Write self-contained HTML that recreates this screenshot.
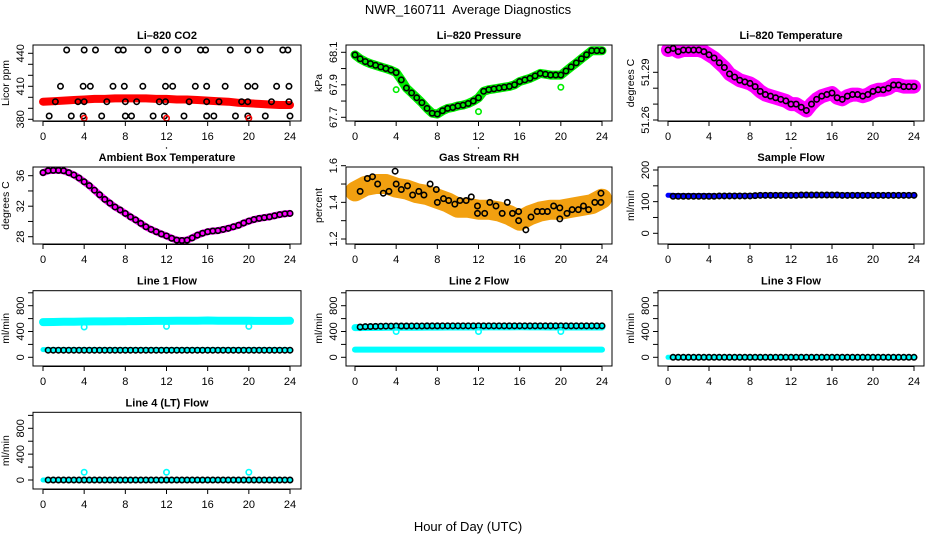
<!DOCTYPE html>
<html><head><meta charset="utf-8"><style>
html,body{margin:0;padding:0;background:#fff;}
svg{display:block;font-family:"Liberation Sans",sans-serif;}
</style></head><body>
<svg id="c" width="936" height="540" viewBox="0 0 936 540" xmlns="http://www.w3.org/2000/svg">
<text x="468" y="14" text-anchor="middle" font-size="13">NWR_160711&#160; Average Diagnostics</text>
<text x="468" y="531" text-anchor="middle" font-size="13">Hour of Day (UTC)</text>
</svg>
<script>
const HALF=[0,0.5,1,1.5,2,2.5,3,3.5,4,4.5,5,5.5,6,6.5,7,7.5,8,8.5,9,9.5,10,10.5,11,11.5,12,12.5,13,13.5,14,14.5,15,15.5,16,16.5,17,17.5,18,18.5,19,19.5,20,20.5,21,21.5,22,22.5,23,23.5,24];
const HOURLY=[0,1,2,3,4,5,6,7,8,9,10,11,12,13,14,15,16,17,18,19,20,21,22,23,24];
const XTICKS=[0,4,8,12,16,20,24];
const OUT_HOURS=[4,12,20];

const co2Band=[396,396.5,397,397.5,398,398.5,398.5,399,399,399,399,398.5,398.5,398,398,397.5,397,396.5,396,395,394.5,394,393.5,393,393];
const co2Hours=[0.6,1.2,1.7,2.3,2.75,3.4,3.9,3.9,4.0,4.0,4.6,5.1,5.7,6.2,6.8,7.3,7.8,7.9,8.0,8.0,8.6,9.1,9.7,10.2,10.7,11.3,11.8,11.9,11.9,11.9,12.6,13.1,13.7,14.2,14.8,15.3,15.8,15.9,15.9,15.9,16.6,17.1,17.7,18.2,18.7,19.3,19.9,19.9,19.9,19.9,20.6,21.1,21.6,22.2,22.7,23.3,23.8,23.9,23.9,24.0];
const co2Vals=[383,396,410,443,383,396,410,383,443,396,410,443,383,396,410,443,443,410,396,383,383,396,410,443,383,396,383,396,410,443,410,443,383,396,410,443,443,410,396,383,383,396,410,443,383,396,396,383,410,443,410,443,383,396,410,443,443,410,396,383];
const co2Out=[381,381,381];

const pressVals=[68.084,68.06,68.043,68.03,68.02,68.01,68.0,67.99,67.975,67.93,67.88,67.85,67.82,67.79,67.755,67.725,67.72,67.74,67.755,67.76,67.77,67.775,67.785,67.80,67.82,67.86,67.87,67.875,67.88,67.885,67.89,67.9,67.92,67.93,67.94,67.955,67.97,67.965,67.96,67.96,67.96,67.985,68.01,68.035,68.06,68.085,68.11,68.11,68.11];
const pressOut=[67.87,67.735,67.885];

const liTempVals=[51.304,51.305,51.303,51.304,51.304,51.304,51.304,51.303,51.301,51.299,51.296,51.293,51.289,51.287,51.285,51.284,51.283,51.281,51.278,51.276,51.275,51.274,51.273,51.272,51.27,51.27,51.268,51.266,51.27,51.273,51.275,51.276,51.277,51.274,51.273,51.275,51.276,51.276,51.275,51.276,51.278,51.279,51.279,51.28,51.282,51.282,51.281,51.281,51.281];

const ambVals=[36.4,36.65,36.7,36.7,36.65,36.4,36.1,35.7,35.2,34.7,34.1,33.5,32.9,32.4,31.9,31.5,31.05,30.6,30.2,29.75,29.3,28.95,28.65,28.35,28.1,27.8,27.55,27.5,27.55,27.85,28.2,28.45,28.65,28.75,28.8,28.95,29.1,29.3,29.5,29.8,30.05,30.25,30.4,30.5,30.6,30.75,30.9,31.0,31.05];

const rhBand=[1.46,1.49,1.5,1.5,1.48,1.47,1.45,1.44,1.42,1.40,1.37,1.37,1.36,1.36,1.35,1.33,1.30,1.33,1.35,1.36,1.36,1.37,1.38,1.39,1.42];
const rhHours=[0.5,1.2,1.7,2.2,2.75,3.3,3.9,4,4.5,5.1,5.6,6.2,6.7,7.3,7.9,8,8.6,9.1,9.7,10.2,10.8,11.3,11.9,11.9,12.6,13.1,13.7,14.3,14.8,15.3,15.9,15.9,16.6,17.1,17.7,18.2,18.7,19.3,19.9,19.9,20.6,21.1,21.7,22.2,22.7,23.3,23.9,23.9];
const rhVals=[1.46,1.53,1.54,1.50,1.45,1.46,1.57,1.50,1.47,1.49,1.44,1.46,1.44,1.50,1.47,1.40,1.42,1.41,1.39,1.41,1.41,1.43,1.38,1.34,1.34,1.40,1.38,1.34,1.40,1.34,1.35,1.30,1.25,1.32,1.35,1.35,1.35,1.38,1.37,1.31,1.34,1.36,1.36,1.38,1.36,1.40,1.45,1.40];

const sampleBand=[120,119,119,119,119,118,119,119,119,120,121,121,121,121,121,121,122,121,121,121,120,120,120,120,120];
const sampleCirc=[117,117,117,117,117,117,117,117,117,118,118,118,118,118,118,118,119,120,120,120,120,120,120,120,120,121,121,121,121,121,121,121,121,120,120,120,120,120,120,120,120,120,120,120,120,120,120,120];

const l1BandHi=[545,548,550,552,555,556,557,558,560,562,563,564,565,566,568,568,570,568,567,566,566,565,565,565,566];
const l1BandLo=[120,120,120,120,120,120,120,120,120,120,120,120,120,120,120,120,120,120,120,120,120,120,120,120,120];
const l1Circ=[110,110,110,110,110,110,110,110,110,110,110,110,110,110,110,110,110,110,110,110,110,110,110,110,110,110,110,110,110,110,110,110,110,110,110,110,110,110,110,110,110,110,110,110,110,110,110,110];
const l1Out=[470,480,480];

const l2BandHi=[460,462,463,465,466,466,467,468,468,469,470,470,470,471,472,472,473,472,471,470,470,470,470,470,470];
const l2BandLo=[120,120,120,120,120,120,120,120,120,120,120,120,120,120,120,120,120,120,120,120,120,120,120,120,120];
const l2Circ=[470,475,478,480,482,484,484,485,485,485,486,486,486,487,487,487,488,488,488,488,488,488,488,488,488,488,488,488,488,488,488,488,488,488,488,488,488,488,488,488,488,488,488,488,488,488,488,488];
const l2Out=[400,400,400];

const l3Band=[0,0,0,0,0,0,0,0,0,0,0,0,0,0,0,0,0,0,0,0,0,0,0,0,0];
const l3Circ=[0,0,0,0,0,0,0,0,0,0,0,0,0,0,0,0,0,0,0,0,0,0,0,0,0,0,0,0,0,0,0,0,0,0,0,0,0,0,0,0,0,0,0,0,0,0,0,0];
const l4Band=[0,0,0,0,0,0,0,0,0,0,0,0,0,0,0,0,0,0,0,0,0,0,0,0,0];
const l4Circ=[0,0,0,0,0,0,0,0,0,0,0,0,0,0,0,0,0,0,0,0,0,0,0,0,0,0,0,0,0,0,0,0,0,0,0,0,0,0,0,0,0,0,0,0,0,0,0,0];
const l4Out=[120,120,120];

const NS="http://www.w3.org/2000/svg";
const svg=document.getElementById('c');
const COLS=[{l:33,r:301,x0:43,x24:290},{l:346,r:612,x0:355,x24:602},{l:658,r:924,x0:668,x24:914}];
const ROWS=[{t:45,b:121},{t:167,b:244},{t:290.7,b:366},{t:412.3,b:489}];
const CIRC_HOURS=HALF.slice(1);

function mk(tag,attrs,parent){const e=document.createElementNS(NS,tag);for(const k in attrs)e.setAttribute(k,attrs[k]);(parent||svg).appendChild(e);return e;}

function panel(o){
  const c=COLS[o.col],r=ROWS[o.row];
  const g=mk('g',{});
  
  
  const xs=h=>c.x0+(c.x24-c.x0)*h/24;
  const ys=v=>o.y1+(v-o.v1)*(o.y2-o.y1)/(o.v2-o.v1);
  const t=mk('text',{x:(c.l+c.r)/2,y:r.t-6,'text-anchor':'middle','font-size':'11','font-weight':'bold'},g);
  t.textContent=o.title;
  
  
  XTICKS.forEach(h=>{
    mk('line',{x1:xs(h),x2:xs(h),y1:r.b,y2:r.b+5,stroke:'#000'},g);
    const l=mk('text',{x:xs(h),y:r.b+19,'text-anchor':'middle','font-size':'11'},g);
    l.textContent=h;
    
    
  });
  mk('line',{x1:xs(0),x2:xs(24),y1:r.b+0.5,y2:r.b+0.5,stroke:'#000'},g);
  if(o.row===0){mk('circle',{cx:xs(12),cy:r.b+27,r:0.7,fill:'#000'},g);}
  o.yticks.forEach(v=>{
    mk('line',{x1:c.l-5,x2:c.l,y1:ys(v),y2:ys(v),stroke:'#000'},g);
  });
  o.ylabels.forEach((s,i)=>{
    const v=o.ylabelVals[i];
    const l=mk('text',{x:0,y:0,'text-anchor':'middle','font-size':'11',transform:`translate(${c.l-9},${ys(v)}) rotate(-90)`},g);
    l.textContent=s;
    
    
  });
  const yt=mk('text',{x:0,y:0,'text-anchor':'middle','font-size':'10.5',transform:`translate(${c.l-24},${(r.t+r.b)/2}) rotate(-90)`},g);
  yt.textContent=o.ytitle;
  
  
  const cid='clip'+o.name;
  const cp=mk('clipPath',{id:cid},g);mk('rect',{x:c.l,y:r.t,width:c.r-c.l,height:r.b-r.t},cp);
  const pg=mk('g',{'clip-path':`url(#${cid})`},g);
  (o.bands||[]).forEach(b=>{
    const pts=b.vals.map((v,i)=>xs(b.hours[i]).toFixed(1)+','+ys(v).toFixed(1)).join(' ');
    const pl=mk('polyline',{points:pts,fill:'none',stroke:b.color,'stroke-width':b.w,'stroke-linecap':'round','stroke-linejoin':'round'},pg);
    
    
  });
  (o.points||[]).forEach(p=>{
    p.vals.forEach((v,i)=>{
      const cc=mk('circle',{cx:xs(p.hours[i]),cy:ys(v),r:p.r||2.7,fill:'none',stroke:p.color,'stroke-width':p.sw||1.6},pg);
      
      
    });
  });
  mk('rect',{x:c.l,y:r.t,width:c.r-c.l,height:r.b-r.t,fill:'none',stroke:'#000','stroke-width':1},g);
}

const flowTicks=[0,200,400,600,800,1000];
panel({name:'co2-panel',title:'Li\u2013820 CO2',col:0,row:0,v1:380,y1:119.3,v2:440,y2:53.3,yticks:[380,390,400,410,420,430,440],ylabels:['380','410','440'],ylabelVals:[380,410,440],ytitle:'Licor ppm',
  bands:[{hours:HOURLY,vals:co2Band,color:'#ff0000',w:8}],
  points:[{hours:co2Hours,vals:co2Vals,color:'#000'},{hours:OUT_HOURS,vals:co2Out,color:'#ff0000'}]});
panel({name:'pressure-panel',title:'Li\u2013820 Pressure',col:1,row:0,v1:67.7,y1:117.3,v2:68.1,y2:52.3,yticks:[67.7,67.8,67.9,68.0,68.1],ylabels:['67.7','67.9','68.1'],ylabelVals:[67.7,67.9,68.1],ytitle:'kPa',
  bands:[{hours:HALF,vals:pressVals,color:'#00ee00',w:9}],
  points:[{hours:HALF,vals:pressVals,color:'#000'},{hours:OUT_HOURS,vals:pressOut,color:'#00ee00'}]});
panel({name:'li-temp-panel',title:'Li\u2013820 Temperature',col:2,row:0,v1:51.26,y1:120,v2:51.29,y2:72.3,yticks:[51.26,51.27,51.28,51.29],ylabels:['51.26','51.29'],ylabelVals:[51.26,51.29],ytitle:'degrees C',
  bands:[{hours:HALF,vals:liTempVals,color:'#ff00ff',w:14}],
  points:[{hours:HALF,vals:liTempVals,color:'#000'}]});
panel({name:'ambient-temp-panel',title:'Ambient Box Temperature',col:0,row:1,v1:28,y1:236.7,v2:36,y2:175.7,yticks:[28,30,32,34,36],ylabels:['28','32','36'],ylabelVals:[28,32,36],ytitle:'degrees C',
  bands:[{hours:HALF,vals:ambVals,color:'#ff00ff',w:7}],
  points:[{hours:HALF,vals:ambVals,color:'#000'}]});
panel({name:'rh-panel',title:'Gas Stream RH',col:1,row:1,v1:1.2,y1:239,v2:1.6,y2:165.7,yticks:[1.2,1.3,1.4,1.5,1.6],ylabels:['1.2','1.4','1.6'],ylabelVals:[1.2,1.4,1.6],ytitle:'percent',
  bands:[{hours:HOURLY,vals:rhBand,color:'#f2a010',w:20}],
  points:[{hours:rhHours,vals:rhVals,color:'#000'}]});
panel({name:'sample-flow-panel',title:'Sample Flow',col:2,row:1,v1:0,y1:233.3,v2:200,y2:170,yticks:[0,50,100,150,200],ylabels:['0','100','200'],ylabelVals:[0,100,200],ytitle:'ml/min',
  bands:[{hours:HOURLY,vals:sampleBand,color:'#0000ff',w:5}],
  points:[{hours:CIRC_HOURS,vals:sampleCirc,color:'#000'}]});
panel({name:'line1-flow-panel',title:'Line 1 Flow',col:0,row:2,v1:0,y1:357.3,v2:800,y2:305.7,yticks:flowTicks,ylabels:['0','400','800'],ylabelVals:[0,400,800],ytitle:'ml/min',
  bands:[{hours:HOURLY,vals:l1BandHi,color:'#00ffff',w:8},{hours:HOURLY,vals:l1BandLo,color:'#00ffff',w:5}],
  points:[{hours:CIRC_HOURS,vals:l1Circ,color:'#000'},{hours:OUT_HOURS,vals:l1Out,color:'#00ffff'}]});
panel({name:'line2-flow-panel',title:'Line 2 Flow',col:1,row:2,v1:0,y1:357.3,v2:800,y2:305.7,yticks:flowTicks,ylabels:['0','400','800'],ylabelVals:[0,400,800],ytitle:'ml/min',
  bands:[{hours:HOURLY,vals:l2BandHi,color:'#00ffff',w:7},{hours:HOURLY,vals:l2BandLo,color:'#00ffff',w:6}],
  points:[{hours:CIRC_HOURS,vals:l2Circ,color:'#000'},{hours:OUT_HOURS,vals:l2Out,color:'#00ffff'}]});
panel({name:'line3-flow-panel',title:'Line 3 Flow',col:2,row:2,v1:0,y1:357.3,v2:800,y2:305.7,yticks:flowTicks,ylabels:['0','400','800'],ylabelVals:[0,400,800],ytitle:'ml/min',
  bands:[{hours:HOURLY,vals:l3Band,color:'#00ffff',w:5}],
  points:[{hours:CIRC_HOURS,vals:l3Circ,color:'#000'}]});
panel({name:'line4-flow-panel',title:'Line 4 (LT) Flow',col:0,row:3,v1:0,y1:480,v2:800,y2:428.3,yticks:flowTicks,ylabels:['0','400','800'],ylabelVals:[0,400,800],ytitle:'ml/min',
  bands:[{hours:HOURLY,vals:l4Band,color:'#00ffff',w:5}],
  points:[{hours:CIRC_HOURS,vals:l4Circ,color:'#000'},{hours:OUT_HOURS,vals:l4Out,color:'#00ffff'}]});
</script>
</body></html>
